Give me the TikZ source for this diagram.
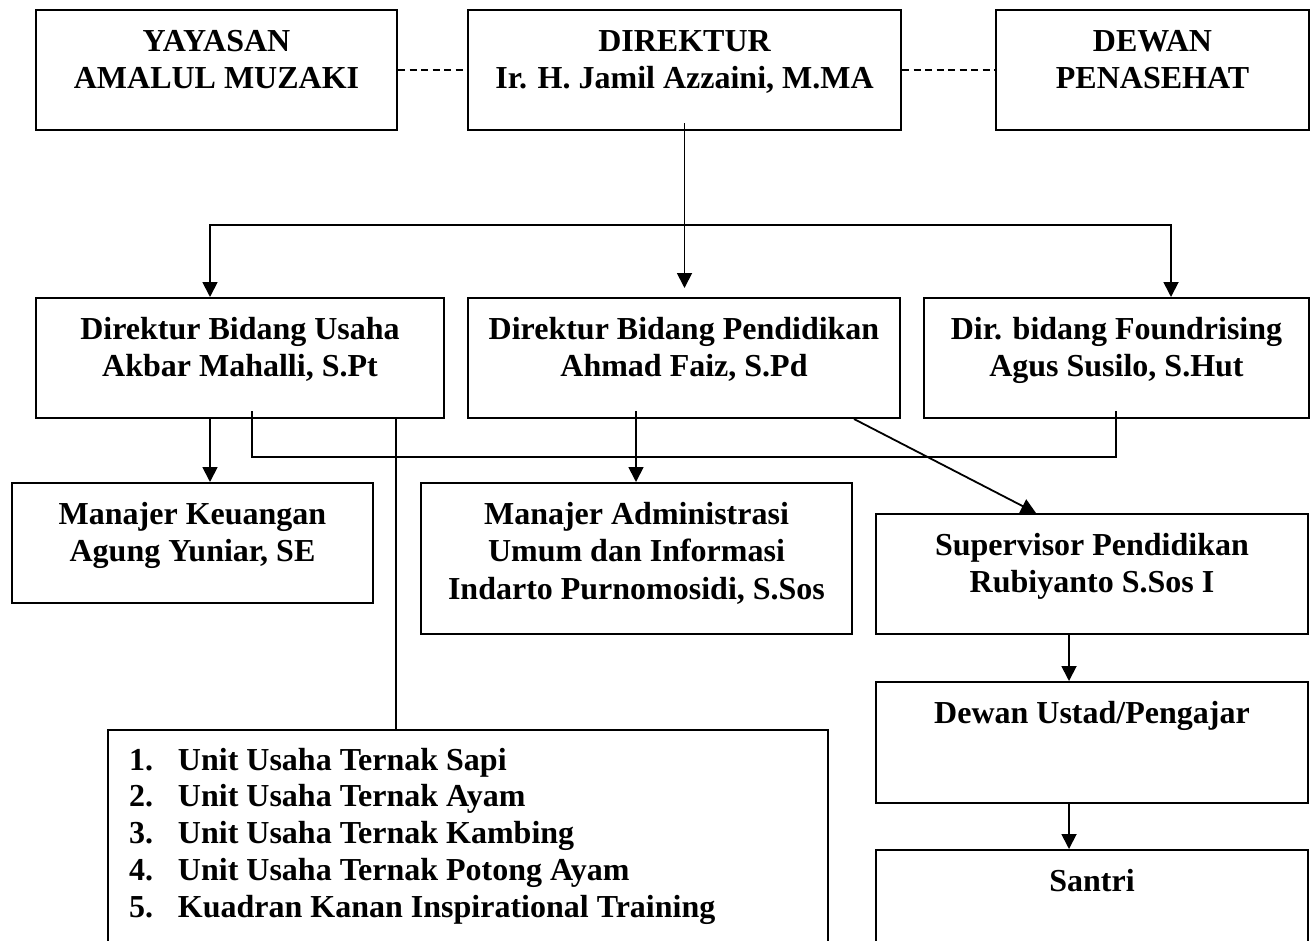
\documentclass[tikz,border=0pt]{standalone}
\usepackage{fontspec}
\setmainfont{Liberation Serif}
\usetikzlibrary{arrows.meta}
\newcommand\bxt[3]{\parbox[c][#2pt][t]{#1pt}{\centering\rule{0pt}{41pt}#3}}
\begin{document}
\begin{tikzpicture}[x=1pt,y=-1pt,
  box/.style={draw, line width=2pt, inner sep=0pt, anchor=north west},
  con/.style={line width=1.8pt},
  arr/.style={con, -{Triangle[length=15pt,width=15pt]}},
  dashcon/.style={line width=1.5pt, dash pattern=on 7pt off 4.5pt},
  font=\fontsize{32}{37.5}\selectfont\bfseries]
\clip (0,0) rectangle (1314,940);
\fill[white] (0,0) rectangle (1314,940);
% row 1
\node[box] (yay) at (35,9) {\bxt{361}{120}{YAYASAN\\AMALUL MUZAKI}};
\node[box] (dir) at (467,9) {\bxt{433}{120}{DIREKTUR\\Ir. H. Jamil Azzaini, M.MA}};
\node[box] (dew) at (995,9) {\bxt{313}{120}{DEWAN\\PENASEHAT}};
% row 2
\node[box] (usa) at (35,297) {\bxt{408}{120}{Direktur Bidang Usaha\\Akbar Mahalli, S.Pt}};
\node[box] (pen) at (467,297) {\bxt{432}{120}{Direktur Bidang Pendidikan\\Ahmad Faiz, S.Pd}};
\node[box] (fnd) at (923,297) {\bxt{385}{120}{Dir. bidang Foundrising\\Agus Susilo, S.Hut}};
% row 3
\node[box] (keu) at (11,482) {\bxt{361}{120}{Manajer Keuangan\\Agung Yuniar, SE}};
\node[box] (adm) at (420,482) {\bxt{431}{151}{Manajer Administrasi\\Umum dan Informasi\\Indarto Purnomosidi, S.Sos}};
\node[box] (sup) at (875,513) {\bxt{432}{120}{Supervisor Pendidikan\\Rubiyanto S.Sos I}};
\node[box] (ust) at (875,681) {\bxt{432}{121}{Dewan Ustad/Pengajar}};
\node[box] (san) at (875,849) {\bxt{432}{120}{Santri}};
\node[box] (lst) at (107,729) {\parbox[c][230pt][t]{720pt}{\fontsize{32}{36.8}\selectfont\raggedright\leftskip=21pt
\rule{0pt}{40pt}\makebox[49pt][l]{1.}Unit Usaha Ternak Sapi\\
\makebox[49pt][l]{2.}Unit Usaha Ternak Ayam\\
\makebox[49pt][l]{3.}Unit Usaha Ternak Kambing\\
\makebox[49pt][l]{4.}Unit Usaha Ternak Potong Ayam\\
\makebox[49pt][l]{5.}Kuadran Kanan Inspirational Training}};
% helper coordinates
\coordinate (busL) at (210,225);
\coordinate (busR) at (1171,225);
\coordinate (uL) at (252,457);
\coordinate (uR) at (1116,457);
\coordinate (cA) at (636,0);
\coordinate (cL) at (396,0);
% connectors
\draw[dashcon] (yay.east) -- (dir.west);
\draw[dashcon] (dir.east) -- (dew.west);
\draw[arr] ([yshift=8pt]dir.south) -- ([yshift=9pt]dir.south |- pen.north);
\draw[con, {Triangle[length=15pt,width=15pt]}-{Triangle[length=15pt,width=15pt]}]
  (busL |- usa.north) -- (busL) -- (busR) -- (busR |- fnd.north);
\draw[arr] (busL |- usa.south) -- (busL |- keu.north);
\draw[con] ([yshift=8pt]uL |- usa.south) -- (uL) -- (uR) -- ([yshift=8pt]uR |- fnd.south);
\draw[arr] ([yshift=8pt]cA |- pen.south) -- (cA |- adm.north);
\draw[con] (cL |- usa.south) -- (cL |- lst.north);
\draw[arr] ([xshift=-47pt]pen.south east) -- ([xshift=-56pt]sup.north);
\draw[arr] ([xshift=-23pt]sup.south) -- ([xshift=-23pt]ust.north);
\draw[arr] ([xshift=-23pt]ust.south) -- ([xshift=-23pt]san.north);
\end{tikzpicture}
\end{document}
